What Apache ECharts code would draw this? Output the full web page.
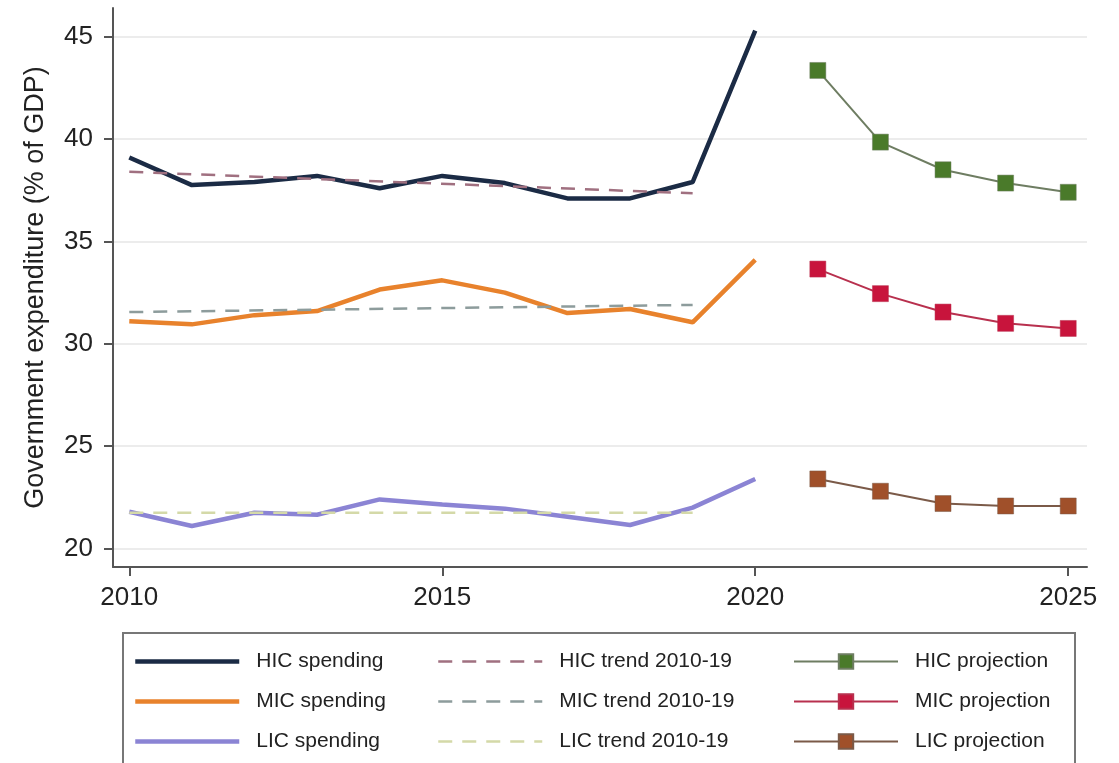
<!DOCTYPE html>
<html>
<head>
<meta charset="utf-8">
<script src="https://cdn.jsdelivr.net/npm/echarts@6/dist/echarts.min.js"></script>
<style>
  html, body { margin: 0; padding: 0; background: #fff; }
  #main { width: 1119px; height: 763px; }
</style>
</head>
<body>
<div id="main"></div>
<script>
var years = [2010, 2011, 2012, 2013, 2014, 2015, 2016, 2017, 2018, 2019, 2020];
var projYears = [2021, 2022, 2023, 2024, 2025];
var trendYears = [2010, 2019];

var hicSpending = [39.1, 37.75, 37.9, 38.2, 37.6, 38.2, 37.85, 37.1, 37.1, 37.9, 45.3];
var micSpending = [31.1, 30.95, 31.4, 31.6, 32.65, 33.1, 32.5, 31.5, 31.7, 31.05, 34.1];
var licSpending = [21.8, 21.1, 21.75, 21.65, 22.4, 22.15, 21.95, 21.55, 21.15, 22.0, 23.4];

var hicTrend = [38.4, 37.35];
var micTrend = [31.55, 31.9];
var licTrend = [21.75, 21.75];

var hicProjection = [43.35, 39.85, 38.5, 37.85, 37.4];
var micProjection = [33.65, 32.45, 31.55, 31.0, 30.75];
var licProjection = [23.4, 22.8, 22.2, 22.08, 22.08];

var xTicks = [2010, 2015, 2020, 2025];
var yTicks = [20, 25, 30, 35, 40, 45];

function pairs(xs, ys) {
  return xs.map(function (x, i) { return [x, ys[i]]; });
}

var font = 'Liberation Sans, Arial, Helvetica, sans-serif';

var chartDom = document.getElementById('main');
var myChart = echarts.init(chartDom);
var option;

function spending(name, color, vals) {
  return {
    name: name, type: 'line', data: pairs(years, vals),
    symbol: 'none', lineStyle: { color: color, width: 4.5 }, itemStyle: { color: color },
    z: 2
  };
}
function trend(name, color, vals) {
  return {
    name: name, type: 'line', data: pairs(trendYears, vals),
    symbol: 'none', lineStyle: { color: color, width: 2.5, type: [14, 10] }, itemStyle: { color: color },
    z: 3
  };
}
function projection(name, lineColor, markColor, vals) {
  return {
    name: name, type: 'line', data: pairs(projYears, vals),
    symbol: 'rect', symbolSize: 16,
    lineStyle: { color: lineColor, width: 2 },
    itemStyle: { color: markColor, borderColor: lineColor, borderWidth: 0.5 },
    z: 4
  };
}

var legendBase = {
  orient: 'vertical',
  top: 651,
  padding: 0,
  itemWidth: 104,
  itemHeight: 18,
  itemGap: 19,
  textStyle: { fontFamily: font, fontSize: 21, color: '#222', padding: [0, 0, 0, 12] }
};

function noDot(name, width) {
  return { name: name, itemStyle: { opacity: 0 }, lineStyle: { width: width } };
}

option = {
  animation: false,
  backgroundColor: '#fff',
  grid: { left: 113, right: 32, top: 8, bottom: 196 },
  xAxis: {
    type: 'value',
    min: 2009.74,
    max: 2025.3,
    axisLine: { show: true, lineStyle: { color: '#555', width: 2 } },
    axisTick: { show: true, length: 9, lineStyle: { color: '#555', width: 2 }, customValues: xTicks },
    axisLabel: {
      customValues: xTicks, fontFamily: font, fontSize: 26, color: '#222', margin: 18,
      formatter: function (v) { return String(v); }
    },
    splitLine: { show: false }
  },
  yAxis: {
    type: 'value',
    min: 19.1,
    max: 46.4,
    name: 'Government expenditure (% of GDP)',
    nameLocation: 'middle',
    nameGap: 64,
    nameTextStyle: { fontFamily: font, fontSize: 27, color: '#222' },
    axisLine: { show: true, lineStyle: { color: '#555', width: 2 } },
    axisTick: { show: true, length: 9, lineStyle: { color: '#555', width: 2 }, customValues: yTicks },
    axisLabel: { customValues: yTicks, fontFamily: font, fontSize: 26, color: '#222', margin: 20 },
    splitLine: { show: true, lineStyle: { color: '#ececec', width: 2 } }
  },
  legend: [
    Object.assign({}, legendBase, {
      left: 133,
      data: [noDot('HIC spending', 4.5), noDot('MIC spending', 4.5), noDot('LIC spending', 4.5)]
    }),
    Object.assign({}, legendBase, {
      left: 437,
      data: [noDot('HIC trend 2010-19', 2.5), noDot('MIC trend 2010-19', 2.5), noDot('LIC trend 2010-19', 2.5)]
    }),
    Object.assign({}, legendBase, {
      left: 793,
      data: ['HIC projection', 'MIC projection', 'LIC projection']
    })
  ],
  graphic: [{
    type: 'rect',
    shape: { x: 123, y: 633, width: 952, height: 140 },
    style: { fill: 'none', stroke: '#777', lineWidth: 2 },
    silent: true
  }],
  series: [
    spending('HIC spending', '#1b2b45', hicSpending),
    spending('MIC spending', '#e8822c', micSpending),
    spending('LIC spending', '#8b84d4', licSpending),
    trend('HIC trend 2010-19', '#a07080', hicTrend),
    trend('MIC trend 2010-19', '#8d9c9c', micTrend),
    trend('LIC trend 2010-19', '#d4d9a8', licTrend),
    projection('HIC projection', '#6e7d62', '#4a7a2a', hicProjection),
    projection('MIC projection', '#b8304e', '#c8143c', micProjection),
    projection('LIC projection', '#7b5a48', '#a0502a', licProjection)
  ]
};

option && myChart.setOption(option);
</script>
</body>
</html>
